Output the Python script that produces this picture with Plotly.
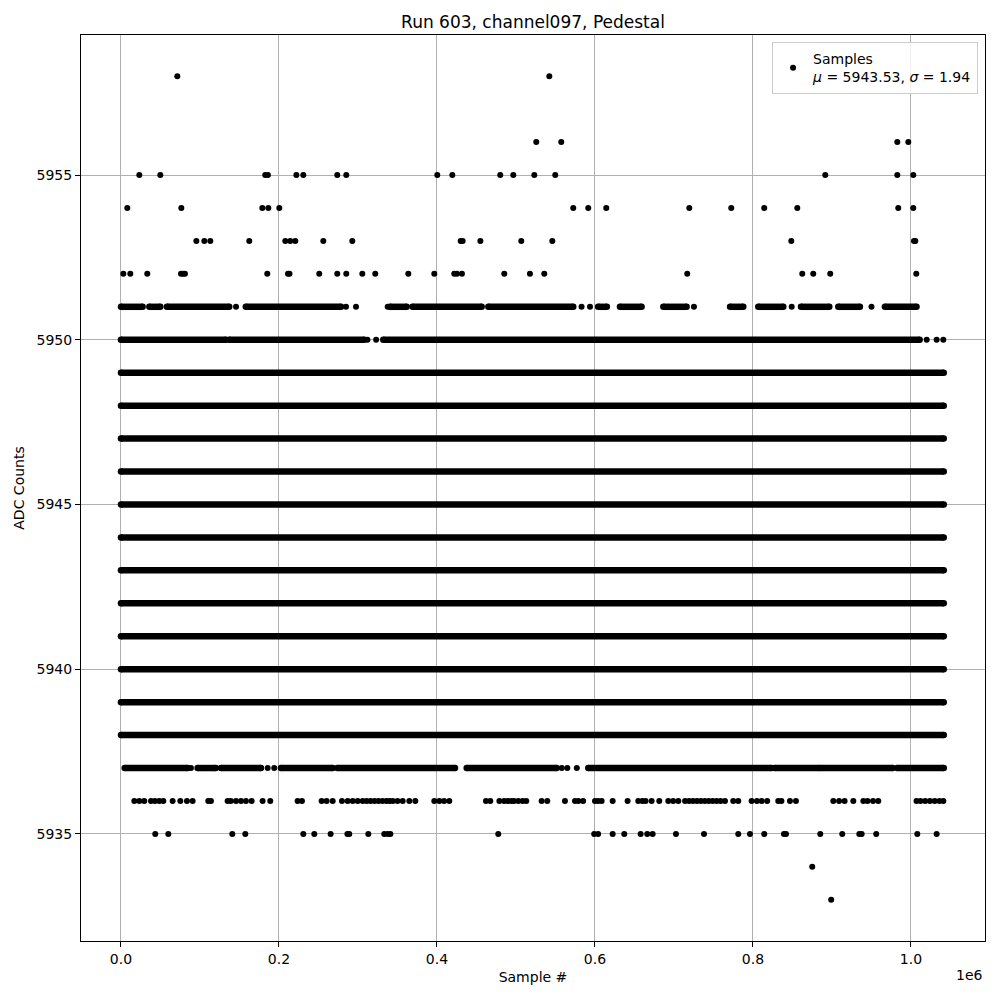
import plotly.graph_objects as go

# ---------------- data ----------------
# Rows where samples are so dense they form continuous bands: (ADC value, start sample, end sample)
band_y = [5938, 5939, 5940, 5941, 5942, 5943, 5944, 5945, 5946, 5947, 5948, 5949]
band_x0 = [0] * 12
band_x1 = [1041500] * 12

# Semi-dense rows: runs of overlapping samples (start, end)
row5951_runs = [(0, 27400), (35900, 49800), (58200, 137000), (158000, 278500), (340500, 361600),
                (369000, 456600), (465000, 572500), (604000, 615000), (631600, 659000),
                (686500, 716000), (771000, 787700), (806700, 838400), (860800, 896600),
                (908000, 935400), (967000, 1007000)]
row5950_runs = [(0, 133000), (137000, 308000), (332000, 1011000)]
row5937_runs = [(4700, 84400), (97000, 120000), (126600, 177200), (202500, 268000),
                (274000, 422800), (437600, 551500), (591500, 823600), (827800, 884800),
                (887000, 976800), (982700, 1041500)]

# Isolated samples per ADC value
sparse_rows = [5958, 5956, 5955, 5954, 5953, 5952, 5951, 5950, 5937, 5936, 5935, 5934, 5933]
sparse_x = [
    [71300, 542200],
    [525700, 557300, 982700, 996600],
    [23200, 49800, 182600, 186000, 222000, 230800, 273800, 285200, 400400, 419400, 480100,
     496600, 523200, 549700, 891500, 982700, 1002900],
    [8000, 76400, 178900, 186500, 200400, 572500, 591500, 614300, 719400, 772500, 814300,
     856100, 983900, 1002900],
    [95400, 105500, 113100, 162400, 208000, 214300, 220700, 256100, 292800, 430000, 432500,
     454900, 506700, 546000, 848500, 1003800, 1005500],
    [3000, 11800, 33300, 76000, 78500, 81000, 185200, 211400, 213300, 251000, 273800, 285200,
     305500, 321900, 363700, 396600, 421900, 425300, 431600, 485200, 517700, 535800, 716800,
     862400, 876300, 897800, 1006700],
    [145600, 284800, 297500, 337600, 583000, 593700, 725300, 849000, 950000],
    [312000, 323000, 1019900, 1032500, 1040900],
    [88600, 185700, 194000, 558000, 565000, 577000],
    [16900, 23200, 29500, 38000, 43000, 48500, 53600, 65400, 75100, 83500, 90700, 110500,
     113900, 135000, 139000, 145600, 151900, 158200, 165400, 179300, 189000, 223600, 229100,
     254000, 260300, 268000, 279700, 287000, 293300, 299600, 306000, 311000, 316000, 321000,
     326000, 331000, 336000, 340000, 344000, 350000, 356600, 365000, 372600, 396600, 403000,
     409000, 415600, 462000, 467500, 479000, 485000, 489500, 494000, 497500, 503000, 508500,
     513000, 532500, 539600, 562000, 574700, 579000, 585000, 600000, 604000, 608400, 622400,
     641300, 654800, 660000, 664000, 671700, 681400, 692800, 699000, 705500, 714000, 719000,
     724000, 729000, 734000, 739000, 744000, 749000, 754000, 759000, 764600, 775000, 781400,
     798300, 805000, 811000, 818000, 832000, 836000, 846800, 854400, 901700, 909000, 916000,
     927000, 939700, 945000, 952000, 958600, 1007000, 1012000, 1018000, 1024000, 1030000,
     1036000, 1041000],
    [43400, 59900, 140900, 157400, 230800, 244700, 265400, 286600, 289000, 313100, 333300,
     337500, 341000, 477600, 599000, 604000, 622400, 637100, 657800, 666200, 673000, 702500,
     738000, 781400, 796200, 814300, 839200, 841800, 885200, 913000, 934600, 937600, 956000,
     1008000, 1032500],
    [875000],
    [899000],
]

x_tick_vals = [0, 200000, 400000, 600000, 800000, 1000000]
x_tick_text = ["0.0", "0.2", "0.4", "0.6", "0.8", "1.0"]
y_tick_vals = [5935, 5940, 5945, 5950, 5955]

title_text = "Run 603, channel097, Pedestal"
legend_text = "Samples<br><i>μ</i> = 5943.53, <i>σ</i> = 1.94"

# ---------------- build figure ----------------
FONT = "DejaVu Sans"
DOT = 6
BAND_W = 6.5
W = H = 992  # page body has an 8px margin

fig = go.Figure()

# continuous runs as thick lines with round ends
run_x, run_y = [], []
for y, a, b in zip(band_y, band_x0, band_x1):
    run_x += [a, b, None]
    run_y += [y, y, None]
for y, runs in ((5951, row5951_runs), (5950, row5950_runs), (5937, row5937_runs)):
    for a, b in runs:
        run_x += [a, b, None]
        run_y += [y, y, None]

fig.add_trace(go.Scatter(
    x=run_x, y=run_y, mode="lines+markers",
    line=dict(color="black", width=BAND_W),
    marker=dict(color="black", size=BAND_W),
    showlegend=False, hoverinfo="skip",
))

px, py = [], []
for y, xs in zip(sparse_rows, sparse_x):
    px += xs
    py += [y] * len(xs)

fig.add_trace(go.Scatter(
    x=px, y=py, mode="markers",
    marker=dict(color="black", size=DOT),
    name=legend_text, showlegend=True,
))

axis_common = dict(
    showline=True, linecolor="black", linewidth=1, mirror=True,
    ticks="outside", ticklen=5, tickwidth=1, tickcolor="black",
    showgrid=True, gridcolor="#b0b0b0", gridwidth=1, zeroline=False,
    tickfont=dict(family=FONT, size=14, color="black"),
)

fig.update_layout(
    width=W, height=H,
    margin=dict(l=73, r=15, t=27, b=59),
    paper_bgcolor="white", plot_bgcolor="white",
    font=dict(family=FONT, size=14, color="black"),
    title=dict(text=title_text, x=0.5, xref="paper", xanchor="center",
               y=1 - 14 / H, yref="container", yanchor="middle",
               font=dict(family=FONT, size=17, color="black")),
    xaxis=dict(range=[-50600, 1093700], tickvals=x_tick_vals, ticktext=x_tick_text,
               title=dict(text="Sample #", standoff=6,
                          font=dict(family=FONT, size=14, color="black")),
               **axis_common),
    yaxis=dict(range=[5931.75, 5959.25], tickvals=y_tick_vals,
               title=dict(text="ADC Counts", standoff=8,
                          font=dict(family=FONT, size=14, color="black")),
               **axis_common),
    legend=dict(x=0.9923, y=0.9923, xanchor="right", yanchor="top",
                bgcolor="rgba(255,255,255,0.8)", bordercolor="#cccccc", borderwidth=1,
                font=dict(family=FONT, size=14, color="black")),
    annotations=[dict(text="1e6", xref="paper", yref="paper", x=1, y=-(975 - 941) / 906,
                      xanchor="right", yanchor="middle", showarrow=False,
                      font=dict(family=FONT, size=14, color="black"))],
)

fig.write_html("out.html")
